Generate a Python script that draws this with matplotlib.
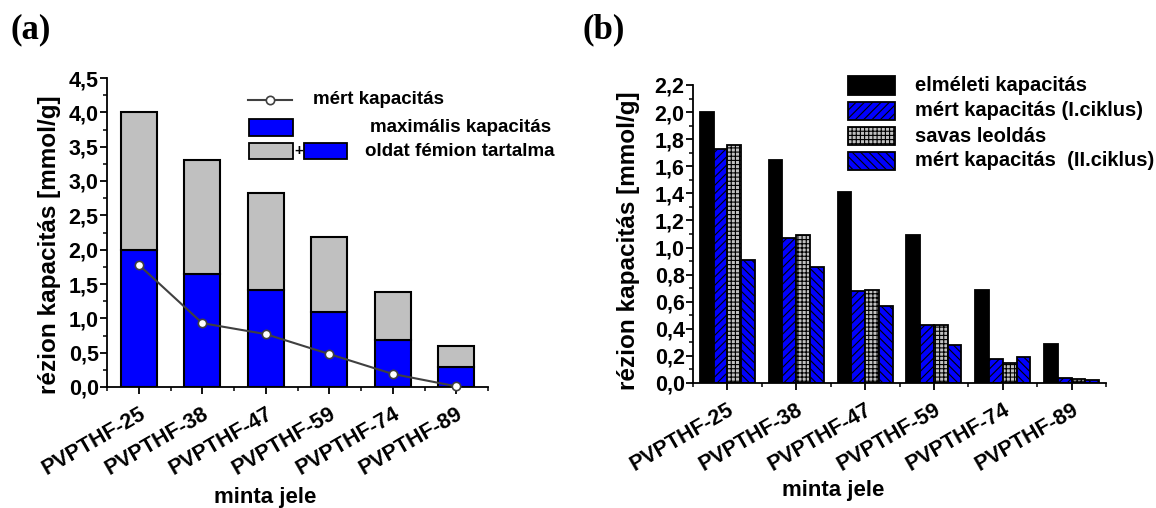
import matplotlib
matplotlib.use('Agg')
import matplotlib.pyplot as plt
from matplotlib.patches import Rectangle
from matplotlib.lines import Line2D
from matplotlib.ticker import MultipleLocator, FuncFormatter

# ---------------- data ----------------
samples = ['PVPTHF-25', 'PVPTHF-38', 'PVPTHF-47', 'PVPTHF-59', 'PVPTHF-74', 'PVPTHF-89']

# panel (a)
max_capacity = [2.0, 1.65, 1.41, 1.09, 0.69, 0.29]
total_capacity = [4.0, 3.3, 2.82, 2.19, 1.39, 0.59]
measured_capacity = [1.78, 0.93, 0.77, 0.48, 0.19, 0.01]

# panel (b)
theoretical = [2.0, 1.65, 1.41, 1.09, 0.69, 0.29]
measured_I = [1.73, 1.07, 0.68, 0.43, 0.18, 0.04]
acid_leach = [1.76, 1.09, 0.69, 0.43, 0.15, 0.03]
measured_II = [0.91, 0.86, 0.57, 0.28, 0.19, 0.02]

legend_a = ['mért kapacitás', 'maximális kapacitás', 'oldat fémion tartalma']
legend_b = ['elméleti kapacitás', 'mért kapacitás (I.ciklus)', 'savas leoldás',
            'mért kapacitás  (II.ciklus)']

# ---------------- style ----------------
SANS = 'Liberation Sans'
SERIF = 'Liberation Serif'
plt.rcParams['font.family'] = SANS
plt.rcParams['font.weight'] = 'bold'
plt.rcParams['hatch.linewidth'] = 0.8
BLUE = '#0000FF'
GRAY = '#C0C0C0'
TICK_FS = 15.5
YLABEL_FS = 17.5
XLABEL_FS = 16
LEG_A_FS = 13.5
LEG_B_FS = 14.5

W, H = 1156, 508
fig = plt.figure(figsize=(W / 100, H / 100), dpi=100)


def fx(px):
    return px / W


def fy(py):
    return 1 - py / H


def rect_axes(l, t, r, b):
    return [fx(l), fy(b), fx(r) - fx(l), fy(t) - fy(b)]


comma = FuncFormatter(lambda v, p: f'{v:.1f}'.replace('.', ','))


def style_axes(ax, ymax, ymajor, yminor):
    for s in ['top', 'right']:
        ax.spines[s].set_visible(False)
    for s in ['left', 'bottom']:
        ax.spines[s].set_linewidth(1.3)
    ax.set_xlim(-0.5, 5.5)
    ax.set_ylim(0, ymax)
    ax.yaxis.set_major_locator(MultipleLocator(ymajor))
    ax.yaxis.set_minor_locator(MultipleLocator(yminor))
    ax.yaxis.set_major_formatter(comma)
    ax.set_xticks(range(len(samples)))
    ax.set_xticks([i - 0.5 for i in range(len(samples) + 1)], minor=True)
    ax.set_xticklabels(samples, rotation=30, ha='right', va='top',
                       rotation_mode='anchor', fontsize=TICK_FS, fontweight='bold')
    ax.tick_params(axis='both', which='major', direction='out', length=5, width=1.3)
    ax.tick_params(axis='both', which='minor', direction='out', length=3, width=1.1)
    ax.tick_params(axis='x', which='major', pad=7)
    ax.tick_params(axis='y', which='major', labelsize=TICK_FS, pad=1)
    for lab in ax.get_yticklabels():
        lab.set_fontweight('bold')
    ax.set_ylabel('rézion kapacitás [mmol/g]', fontsize=YLABEL_FS, fontweight='bold')
    ax.set_xlabel('minta jele', fontsize=XLABEL_FS, fontweight='bold')


# ---------------- panel (a) ----------------
ax1 = fig.add_axes(rect_axes(107, 78, 488, 387))
x = list(range(len(samples)))
gray_part = [t - m for t, m in zip(total_capacity, max_capacity)]
ax1.bar(x, max_capacity, width=0.56, color=BLUE, edgecolor='black', linewidth=1.5, zorder=2)
ax1.bar(x, gray_part, bottom=max_capacity, width=0.56, color=GRAY, edgecolor='black',
        linewidth=1.5, zorder=2)
ax1.plot(x, measured_capacity, color='#404040', linewidth=1.5, marker='o', markersize=6,
         markerfacecolor='white', markeredgecolor='#404040', markeredgewidth=1.2, zorder=3,
         clip_on=False)
style_axes(ax1, 4.5, 0.5, 0.25)
ax1.yaxis.set_label_coords(-0.12, 0.46)
ax1.xaxis.set_label_coords(0.415, -0.325)

# legend (a), drawn manually
fig.add_artist(Line2D([fx(248), fx(292)], [fy(100), fy(100)], color='#404040', linewidth=1.5,
                      transform=fig.transFigure))
fig.add_artist(Line2D([fx(270)], [fy(100)], marker='o', markersize=6, markerfacecolor='white',
                      markeredgecolor='#404040', markeredgewidth=1.2, transform=fig.transFigure))
fig.add_artist(Rectangle((fx(249), fy(136)), fx(44), fy(0) - fy(17), facecolor=BLUE,
                         edgecolor='black', linewidth=1.3, transform=fig.transFigure))
fig.add_artist(Rectangle((fx(249), fy(159)), fx(44), fy(0) - fy(16), facecolor=GRAY,
                         edgecolor='black', linewidth=1.3, transform=fig.transFigure))
fig.add_artist(Rectangle((fx(304), fy(159)), fx(43), fy(0) - fy(16), facecolor=BLUE,
                         edgecolor='black', linewidth=1.3, transform=fig.transFigure))
fig.text(fx(298.5), fy(151), '+', fontsize=11, fontweight='bold', ha='center', va='center')
fig.text(fx(313), fy(100), legend_a[0], fontsize=LEG_A_FS, fontweight='bold', va='center')
fig.text(fx(370), fy(127), legend_a[1], fontsize=LEG_A_FS, fontweight='bold', va='center')
fig.text(fx(365), fy(151), legend_a[2], fontsize=LEG_A_FS, fontweight='bold', va='center')

# ---------------- panel (b) ----------------
ax2 = fig.add_axes(rect_axes(693, 85, 1106, 383))
bw = 0.2
series_b = [
    (theoretical, 'black', None),
    (measured_I, BLUE, '////'),
    (acid_leach, GRAY, '++++'),
    (measured_II, BLUE, '\\\\\\\\'),
]
for k, (vals, col, hatch) in enumerate(series_b):
    pos = [i + (k - 1.5) * bw for i in x]
    ax2.bar(pos, vals, width=bw, color=col, edgecolor='black', linewidth=1.3, hatch=hatch,
            zorder=2)
style_axes(ax2, 2.2, 0.2, 0.1)
ax2.yaxis.set_label_coords(-0.129, 0.477)
ax2.xaxis.set_label_coords(0.34, -0.326)

# legend (b), drawn manually
rows_b = [85.5, 111, 136, 161]
for (vals, col, hatch), label, cy in zip(series_b, legend_b, rows_b):
    fig.add_artist(Rectangle((fx(848), fy(cy + 9)), fx(47), fy(0) - fy(18), facecolor=col,
                             edgecolor='black', linewidth=1.3, hatch=hatch,
                             transform=fig.transFigure))
    fig.text(fx(915), fy(cy), label, fontsize=LEG_B_FS, fontweight='bold', va='center')

# panel letters
fig.text(fx(31), fy(30), '(a)', fontfamily=SERIF, fontsize=25, fontweight='bold',
         ha='center', va='center')
fig.text(fx(604), fy(30), '(b)', fontfamily=SERIF, fontsize=25, fontweight='bold',
         ha='center', va='center')

fig.savefig('out.png', dpi=100)
